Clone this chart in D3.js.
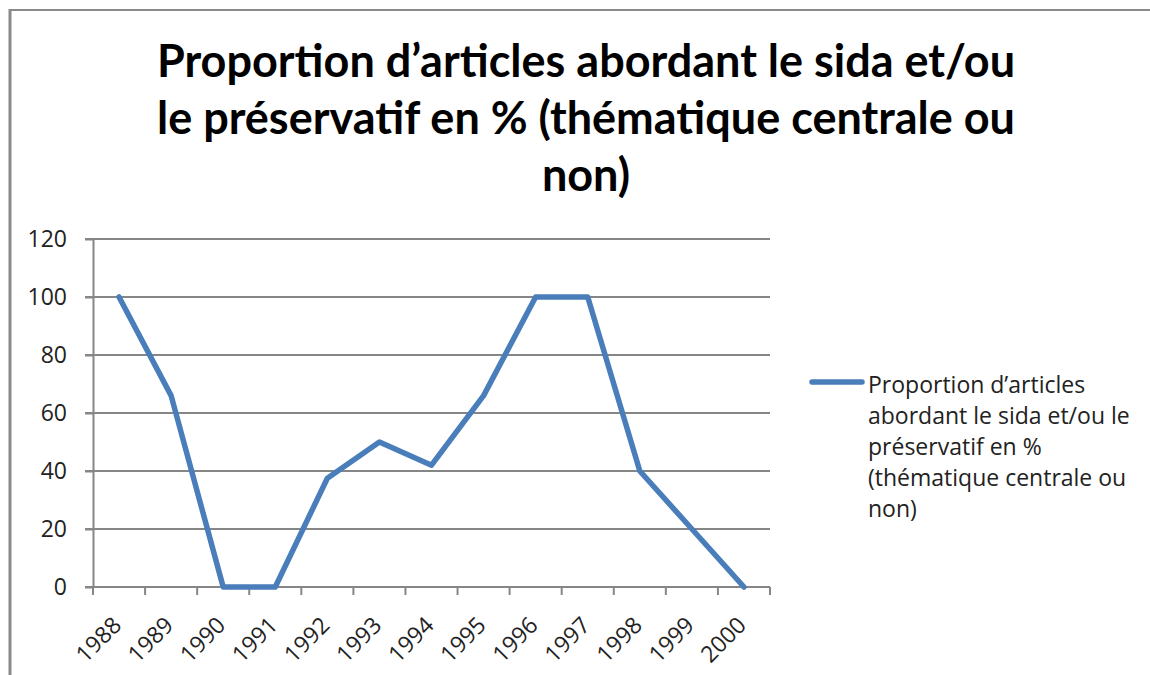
<!DOCTYPE html>
<meta charset="utf-8">
<title>Proportion d'articles</title>
<style>
  body { margin: 0; background: #fff; }
  svg { display: block; }
  .title { font: bold 45px Lato, "Open Sans", sans-serif; fill: #000; }
  .axis text { font: 23px "Open Sans", sans-serif; fill: #222; }
  .axis path, .axis line { stroke: #868686; stroke-width: 2px; }
  .grid line { stroke: #868686; stroke-width: 2px; }
  .legend text { font: 23px "Open Sans", sans-serif; fill: #222; }
</style>
<body>
<script src="https://d3js.org/d3.v7.min.js"></script>
<script>

// data
var years = ["1988","1989","1990","1991","1992","1993","1994","1995","1996","1997","1998","1999","2000"];
var values = [100, 66, 0, 0, 37.5, 50, 42, 66, 100, 100, 40, 20, 0];
var yTicks = [0, 20, 40, 60, 80, 100, 120];
var titleLines = ["Proportion d\u2019articles abordant le sida et/ou",
                  "le pr\u00e9servatif en % (th\u00e9matique centrale ou",
                  "non)"];
var legendLines = ["Proportion d\u2019articles",
                   "abordant le sida et/ou le",
                   "pr\u00e9servatif en %",
                   "(th\u00e9matique centrale ou",
                   "non)"];

var W = 1150, H = 675;
var plot = {left: 93, right: 770, top: 239, bottom: 587};

var svg = d3.select("body").append("svg")
    .attr("width", W)
    .attr("height", H);

// outer frame (only top and left visible in the crop)
svg.append("line").attr("x1", 10).attr("x2", W).attr("y1", 10).attr("y2", 10)
    .attr("stroke", "#8a8a8a").attr("stroke-width", 2);
svg.append("line").attr("x1", 10).attr("x2", 10).attr("y1", 9).attr("y2", H)
    .attr("stroke", "#8a8a8a").attr("stroke-width", 3);

// title
svg.append("text")
    .attr("class", "title")
    .attr("text-anchor", "middle")
  .selectAll("tspan")
  .data(titleLines).enter().append("tspan")
    .attr("x", 586)
    .attr("y", function(d, i) { return 77 + i * 57; })
    .text(function(d) { return d; });

var x = d3.scaleBand().domain(years).range([plot.left, plot.right]);
var y = d3.scaleLinear().domain([0, 120]).range([plot.bottom, plot.top]);

// horizontal grid
svg.append("g").attr("class", "grid")
  .selectAll("line")
  .data(yTicks).enter().append("line")
    .attr("x1", plot.left - 8)
    .attr("x2", plot.right)
    .attr("y1", function(d) { return y(d); })
    .attr("y2", function(d) { return y(d); });

// y axis
var yAxis = svg.append("g")
    .attr("class", "axis")
    .attr("transform", "translate(" + plot.left + ",0)")
    .call(d3.axisLeft(y).tickValues(yTicks).tickSize(8).tickSizeOuter(0).tickPadding(18));

// x axis: ticks at band boundaries
var xAxis = svg.append("g")
    .attr("class", "axis")
    .attr("transform", "translate(0," + plot.bottom + ")");
xAxis.append("line")
    .attr("x1", plot.left - 8).attr("x2", plot.right);
xAxis.selectAll(".btick")
  .data(years.concat(["end"])).enter().append("line")
    .attr("class", "btick")
    .attr("x1", function(d, i) { return plot.left + i * x.step(); })
    .attr("x2", function(d, i) { return plot.left + i * x.step(); })
    .attr("y1", 0).attr("y2", 8);
xAxis.selectAll(".ylab")
  .data(years).enter().append("text")
    .attr("class", "ylab")
    .attr("text-anchor", "end")
    .attr("transform", function(d) {
      return "translate(" + (x(d) + x.bandwidth() / 2 - 2) + ",34) rotate(-45)";
    })
    .attr("dy", "0.35em")
    .text(function(d) { return d; });

// the line
var line = d3.line()
    .x(function(d, i) { return x(years[i]) + x.bandwidth() / 2; })
    .y(function(d) { return y(d); });

svg.append("path")
    .datum(values)
    .attr("fill", "none")
    .attr("stroke", "#4a7ebb")
    .attr("stroke-width", 5.5)
    .attr("stroke-linejoin", "round")
    .attr("stroke-linecap", "round")
    .attr("d", line);

// legend
var legend = svg.append("g").attr("class", "legend");
legend.append("line")
    .attr("x1", 812).attr("x2", 862)
    .attr("y1", 382).attr("y2", 382)
    .attr("stroke", "#4a7ebb").attr("stroke-width", 5.5)
    .attr("stroke-linecap", "round");
legend.append("text")
  .selectAll("tspan")
  .data(legendLines).enter().append("tspan")
    .attr("x", 868)
    .attr("y", function(d, i) { return 393 + i * 31; })
    .text(function(d) { return d; });

</script>
</body>
